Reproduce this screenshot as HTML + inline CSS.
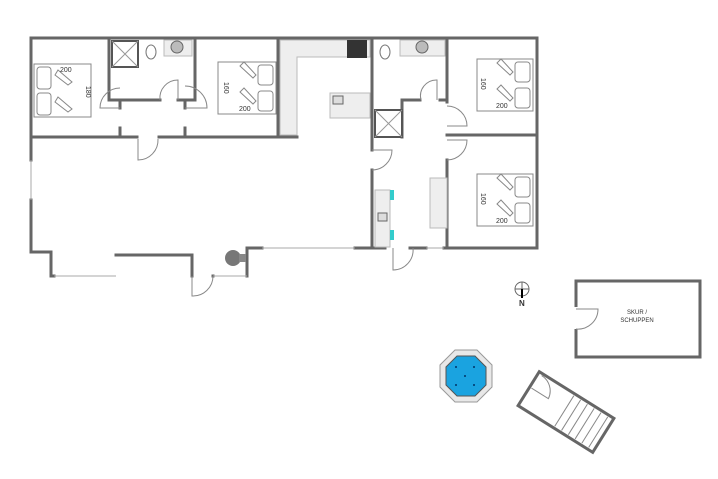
<!DOCTYPE html>
<html><head><meta charset="utf-8"><style>
html,body{margin:0;padding:0;background:#fff;}
svg{display:block;}
text{font-family:"Liberation Sans",sans-serif;fill:#333;}
</style></head><body>
<svg width="718" height="479" viewBox="0 0 718 479" xmlns="http://www.w3.org/2000/svg">
<g fill="none" stroke="#666" stroke-width="3" stroke-linecap="square">
<path d="M31 38 H537 V248"/>
<path d="M31 38 V160 M31 200 V252 H51 V276 H54"/>
<path d="M116 255 H192 V276"/>
<path d="M213 276 H213 M247 276 V248 H262"/>
<path d="M355 248 H385 M410 248 H426 M444 248 H537"/>
<path d="M33 137 H137 M159 137 H297"/>
<path d="M109 38 V100 H160 M178 100 H195 V38"/>
<path d="M120 100 V108 M120 128 V137 M185 100 V108 M185 128 V137"/>
<path d="M278 38 V137"/>
<path d="M372 38 V150 M372 170 V248"/>
<path d="M402 137 V100 H420 M440 100 H447"/>
<path d="M447 38 V102 M447 160 V248"/>
<path d="M447 135 H537"/>
</g>
<g stroke="#aaa" stroke-width="1" fill="none">
<path d="M31 160 V200 M262 248 H355 M54 276 H116 M213 276 H247 M426 248 H444"/>
</g>
<path d="M280 40 H370 V57 H297 V135 H280 Z" fill="#eee" stroke="#bbb"/>
<rect x="347" y="40" width="20" height="18" fill="#333"/>
<rect x="330" y="93" width="40" height="25" fill="#eee" stroke="#bbb"/>
<rect x="333" y="96" width="10" height="8" fill="#ddd" stroke="#666"/>
<rect x="112" y="41" width="26" height="26" fill="#fff" stroke="#555" stroke-width="2"/>
<path d="M112 41 L138 67 M138 41 L112 67" stroke="#999"/>
<ellipse cx="151" cy="52" rx="5" ry="7" fill="#fff" stroke="#777"/>
<rect x="164" y="40" width="28" height="16" fill="#eee" stroke="#bbb"/>
<circle cx="177" cy="47" r="6" fill="#bbb" stroke="#666"/>
<ellipse cx="385" cy="52" rx="5" ry="7" fill="#fff" stroke="#777"/>
<rect x="400" y="40" width="45" height="16" fill="#eee" stroke="#bbb"/>
<circle cx="422" cy="47" r="6" fill="#bbb" stroke="#666"/>
<rect x="375" y="110" width="27" height="27" fill="#fff" stroke="#555" stroke-width="2"/>
<path d="M375 110 L402 137 M402 110 L375 137" stroke="#999"/>
<rect x="375" y="190" width="15" height="57" fill="#eee" stroke="#bbb"/>
<rect x="378" y="213" width="9" height="8" fill="#ddd" stroke="#666"/>
<rect x="390" y="190" width="4" height="10" fill="#3cc"/>
<rect x="390" y="230" width="4" height="10" fill="#3cc"/>
<rect x="430" y="178" width="17" height="50" fill="#eee" stroke="#bbb"/>
<g fill="none" stroke="#888" stroke-width="1">
<path d="M160 100 A18 18 0 0 1 178 80 V100"/>
<path d="M120 108 H100 A20 20 0 0 1 120 88"/>
<path d="M185 108 H207 A22 22 0 0 0 185 86"/>
<path d="M138 139 V160 A20 20 0 0 0 158 139"/>
<path d="M192 276 V296 A20 20 0 0 0 213 276"/>
<path d="M421 100 A16 16 0 0 1 437 80 V100"/>
<path d="M447 106 A20 20 0 0 1 467 126 H447"/>
<path d="M447 160 A20 20 0 0 0 467 140 H447"/>
<path d="M372 150 H392 A20 20 0 0 1 372 170"/>
<path d="M393 248 V270 A20 20 0 0 0 413 248"/>
</g>
<g fill="#fff" stroke="#888" stroke-width="1">
<rect x="34" y="64" width="57" height="53"/>
<rect x="37" y="67" width="14" height="22" rx="3"/>
<rect x="37" y="93" width="14" height="22" rx="3"/>
<path d="M55 75 L68 85 L72 82 L58 70Z M55 102 L68 112 L72 109 L58 97Z"/>
<rect x="218" y="62" width="58" height="52"/>
<rect x="258" y="65" width="15" height="20" rx="3"/>
<rect x="258" y="91" width="15" height="20" rx="3"/>
<path d="M240 66 L253 78 L256 75 L244 62Z M240 92 L253 104 L256 101 L244 88Z"/>
<rect x="477" y="59" width="56" height="52"/>
<rect x="515" y="62" width="15" height="20" rx="3"/>
<rect x="515" y="88" width="15" height="20" rx="3"/>
<path d="M497 63 L510 75 L513 72 L501 59Z M497 89 L510 101 L513 98 L501 85Z"/>
<rect x="477" y="174" width="56" height="52"/>
<rect x="515" y="177" width="15" height="20" rx="3"/>
<rect x="515" y="203" width="15" height="20" rx="3"/>
<path d="M497 178 L510 190 L513 187 L501 174Z M497 204 L510 216 L513 213 L501 200Z"/>
</g>
<g font-size="7">
<text x="60" y="72">200</text>
<text x="86" y="86" transform="rotate(90 86 86)">180</text>
<text x="239" y="111">200</text>
<text x="224" y="82" transform="rotate(90 224 82)">160</text>
<text x="496" y="108">200</text>
<text x="481" y="78" transform="rotate(90 481 78)">160</text>
<text x="496" y="223">200</text>
<text x="481" y="193" transform="rotate(90 481 193)">160</text>
</g>
<circle cx="233" cy="258" r="8" fill="#777"/>
<rect x="239" y="254" width="7" height="8" fill="#888"/>
<circle cx="522" cy="289" r="7" fill="#fff" stroke="#666"/>
<path d="M515 289 H529 M522 282 V296" stroke="#666"/>
<path d="M522 289 V298" stroke="#000" stroke-width="2"/>
<text x="519" y="306" font-size="8" font-weight="bold" fill="#000">N</text>
<rect x="576" y="281" width="124" height="76" fill="#fff" stroke="#666" stroke-width="3"/>
<rect x="573" y="307" width="6" height="22" fill="#fff"/>
<path d="M576 309 H598 A20 20 0 0 1 576 329" fill="none" stroke="#888"/>
<text x="637" y="314" font-size="6" text-anchor="middle">SKUR /</text>
<text x="637" y="322" font-size="6" text-anchor="middle">SCHUPPEN</text>
<polygon points="455,350 477,350 492,365 492,387 477,402 455,402 440,387 440,365" fill="#e8e8e8" stroke="#999"/>
<polygon points="457,356 475,356 486,367 486,385 475,396 457,396 446,385 446,367" fill="#1aa3e0" stroke="#555"/>
<g fill="#036"><circle cx="456" cy="367" r="1"/><circle cx="474" cy="367" r="1"/><circle cx="465" cy="376" r="1"/><circle cx="456" cy="385" r="1"/><circle cx="474" cy="385" r="1"/></g>
<g transform="translate(566 412) rotate(32)">
<rect x="-44" y="-20" width="88" height="40" fill="#fff" stroke="#666" stroke-width="3"/>
<g stroke="#888"><path d="M-2 -18 V18 M6 -18 V18 M14 -18 V18 M22 -18 V18 M30 -18 V18 M38 -18 V18"/></g>
<path d="M-42 -2 H-22 A18 18 0 0 0 -40 -18" fill="none" stroke="#888"/>
</g>
</svg>
</body></html>
